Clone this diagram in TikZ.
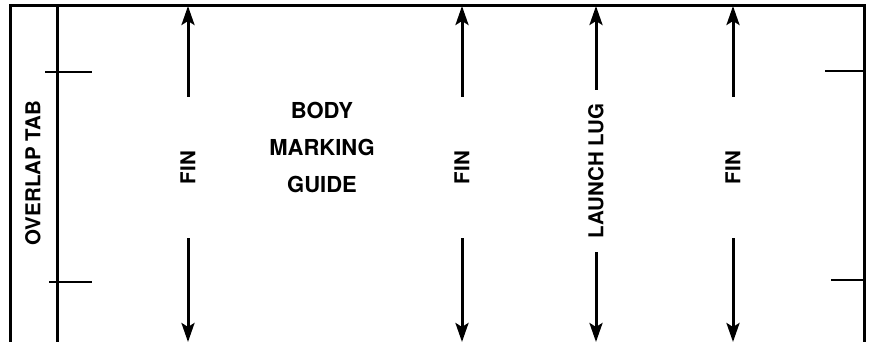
\documentclass[tikz,border=0pt]{standalone}
\usepackage{fontspec}
\setmainfont{TeX Gyre Heros}
\usetikzlibrary{positioning,arrows.meta}

\begin{document}
\begin{tikzpicture}[x=1pt, y=1pt,
						rib/.style={rectangle, rotate=90, inner sep=0pt, font=\fontsize{20.5}{24}\selectfont\bfseries},
						guide/.style={rectangle, align=center, inner sep=0pt, font=\fontsize{22}{37}\selectfont\bfseries},
						edge/.style={line width=3pt},
						tick/.style={line width=1.4pt},
						finarrow/.style={draw, line width=3pt, -{Stealth[length=19pt,width=13pt,inset=4pt]}}
					]
					\useasboundingbox (0,0) rectangle (871,342);
					\coordinate (tl) at (10,336);
					\coordinate (tr) at (864,336);
					\coordinate (bl) at (10,0);
					\coordinate (br) at (864,0);
					\coordinate (tabtop) at (57,336);
					\coordinate (tabbot) at (57,0);
					\draw[edge] (bl) -- (tl) -- (tr) -- (br);
					\draw[edge] (tabtop) -- (tabbot);
					% marks for the fold
					\draw[tick] (45,270) -- (92,270);
					\draw[tick] (49,60) -- (92,60);
					\draw[tick] (825,271) -- (tr |- 0,271);
					\draw[tick] (831,62) -- (tr |- 0,62);
					\node[rib] (tab) at (33,169) {OVERLAP TAB};
					\node[guide] (guide) at (322,195) {BODY\\MARKING\\GUIDE};
					\node[rib, minimum width=141pt] (fin1) at (188,174.5) {FIN};
					\node[rib, minimum width=141pt] (fin2) at (462,174.5) {FIN};
					\node[rib, minimum width=162pt] (lug) at (596,171) {LAUNCH LUG};
					\node[rib, minimum width=141pt] (fin3) at (733,174.5) {FIN};
					\path[finarrow] (fin1.east) -- (fin1 |- tl);
					\path[finarrow] (fin1.west) -- (fin1 |- bl);
					\path[finarrow] (fin2.east) -- (fin2 |- tl);
					\path[finarrow] (fin2.west) -- (fin2 |- bl);
					\path[finarrow] (lug.east) -- (lug |- tl);
					\path[finarrow] (lug.west) -- (lug |- bl);
					\path[finarrow] (fin3.east) -- (fin3 |- tl);
					\path[finarrow] (fin3.west) -- (fin3 |- bl);
					\end{tikzpicture}
\end{document}
